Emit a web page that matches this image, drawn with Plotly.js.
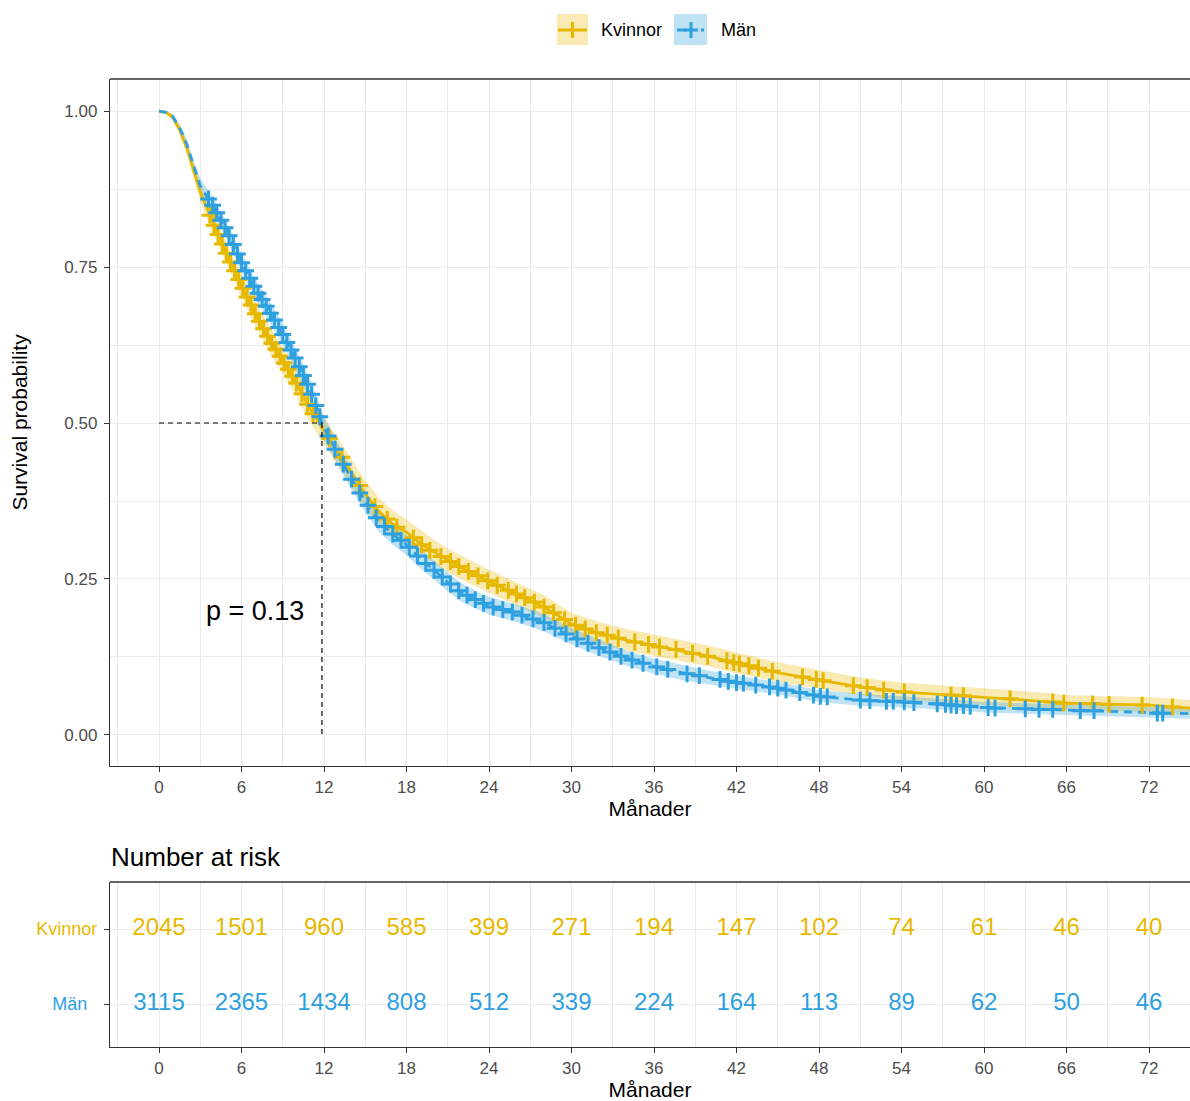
<!DOCTYPE html>
<html>
<head>
<meta charset="utf-8">
<script src="https://cdn.plot.ly/plotly-3.0.1.min.js"></script>
<style>html,body{margin:0;padding:0;background:#fff}#chart{width:1190px;height:1101px}</style>
</head>
<body>
<div id="chart"></div>
<script>
// ---------- DATA ----------
const groupNames = ['Kvinnor', 'Män'];
const groupColors = ['#E7B800', '#2E9FDF'];
const groupFills = ['rgba(231,184,0,0.30)', 'rgba(46,159,223,0.30)'];

const times = [0,0.5,1,1.5,2,2.5,3,4,5,6,7,8,9,10,11,12,13,14,15,16,17,18,19,20,21,22,23,24,26,28,30,32,34,36,38,40,42,45,48,51,54,57,60,63,66,69,72,75];

const survKvinnor  = [1.000,0.998,0.990,0.970,0.942,0.905,0.870,0.817,0.767,0.720,0.675,0.635,0.600,0.564,0.522,0.488,0.455,0.420,0.386,0.358,0.338,0.325,0.307,0.293,0.280,0.268,0.257,0.246,0.226,0.205,0.178,0.163,0.152,0.143,0.135,0.126,0.115,0.100,0.088,0.077,0.069,0.065,0.061,0.056,0.051,0.049,0.048,0.043];
const upperKvinnor = [1.000,1.000,0.995,0.978,0.952,0.918,0.885,0.834,0.785,0.739,0.695,0.656,0.621,0.586,0.544,0.510,0.477,0.442,0.408,0.380,0.360,0.345,0.329,0.313,0.299,0.287,0.276,0.265,0.245,0.224,0.196,0.181,0.170,0.161,0.153,0.143,0.132,0.117,0.104,0.092,0.084,0.080,0.075,0.070,0.064,0.062,0.061,0.056];
const lowerKvinnor = [1.000,0.996,0.985,0.962,0.932,0.892,0.855,0.800,0.749,0.701,0.655,0.614,0.579,0.542,0.500,0.466,0.433,0.398,0.364,0.338,0.318,0.305,0.289,0.275,0.261,0.249,0.238,0.228,0.208,0.187,0.161,0.146,0.135,0.126,0.118,0.110,0.099,0.085,0.074,0.064,0.056,0.052,0.049,0.044,0.040,0.038,0.037,0.032];

const survMan  = [1.000,0.998,0.991,0.973,0.948,0.913,0.880,0.845,0.805,0.757,0.715,0.680,0.642,0.600,0.552,0.492,0.450,0.410,0.374,0.342,0.322,0.305,0.283,0.264,0.245,0.228,0.217,0.207,0.195,0.180,0.158,0.140,0.123,0.110,0.100,0.092,0.084,0.075,0.062,0.056,0.053,0.049,0.044,0.042,0.040,0.038,0.035,0.034];
const upperMan = [1.000,1.000,0.995,0.979,0.956,0.922,0.892,0.858,0.819,0.772,0.731,0.697,0.659,0.617,0.570,0.510,0.468,0.427,0.391,0.359,0.339,0.320,0.299,0.279,0.260,0.243,0.231,0.221,0.209,0.194,0.171,0.153,0.135,0.122,0.112,0.103,0.095,0.085,0.072,0.066,0.062,0.058,0.053,0.051,0.049,0.047,0.044,0.043];
const lowerMan = [1.000,0.996,0.987,0.967,0.940,0.904,0.868,0.832,0.791,0.742,0.699,0.663,0.625,0.583,0.534,0.474,0.432,0.393,0.357,0.325,0.305,0.288,0.267,0.249,0.230,0.213,0.203,0.193,0.181,0.166,0.145,0.127,0.111,0.098,0.088,0.081,0.074,0.065,0.053,0.047,0.044,0.041,0.036,0.034,0.032,0.030,0.027,0.026];

// censoring marks (time, survival)
const censorTimeKvinnor = [3.7,4.0,4.3,4.6,4.9,5.2,5.5,5.8,6.1,6.4,6.7,7.0,7.3,7.6,7.9,8.2,8.5,8.8,9.1,9.4,9.7,10.0,10.4,10.8,11.2,12.4,13.3,14.6,15.7,16.6,17.3,18.5,19.1,19.7,20.5,21.2,21.8,22.5,23.2,23.9,24.6,25.4,26.0,26.6,27.3,28.0,28.7,29.5,30.3,31.0,31.8,32.6,33.4,34.6,35.6,36.4,37.6,38.8,39.9,41.3,41.8,42.2,42.9,43.6,44.6,46.8,47.8,48.3,50.5,51.5,52.7,54.2,57.6,58.5,61.9,65.0,65.8,67.9,69.1,71.5,73.7];
const censorSurvKvinnor = [0.833,0.817,0.802,0.787,0.772,0.758,0.744,0.730,0.716,0.702,0.689,0.675,0.663,0.651,0.639,0.628,0.618,0.607,0.596,0.586,0.575,0.564,0.547,0.530,0.515,0.475,0.445,0.400,0.366,0.346,0.333,0.316,0.305,0.296,0.286,0.278,0.270,0.262,0.255,0.247,0.240,0.232,0.226,0.220,0.213,0.205,0.196,0.185,0.176,0.170,0.164,0.160,0.155,0.149,0.145,0.141,0.137,0.131,0.126,0.119,0.116,0.114,0.111,0.107,0.102,0.093,0.089,0.087,0.079,0.076,0.072,0.069,0.064,0.063,0.058,0.053,0.051,0.050,0.049,0.048,0.045];

const censorTimeMan = [3.6,3.9,4.2,4.5,4.8,5.1,5.4,5.7,6.0,6.3,6.6,6.9,7.2,7.5,7.8,8.1,8.4,8.7,9.0,9.3,9.6,9.9,10.2,10.5,10.8,11.1,11.4,11.7,12.3,12.8,13.4,14.0,14.6,15.2,15.8,16.4,17.0,17.6,18.2,18.8,19.4,20.0,20.6,21.2,21.8,22.4,23.0,23.6,24.3,25.0,25.7,26.4,27.2,28.0,28.8,29.6,30.4,31.2,32.0,32.8,33.6,34.4,35.2,36.2,37.0,38.4,39.3,40.8,41.4,42.0,42.5,43.4,44.4,45.0,45.6,46.6,47.6,48.1,48.6,51.0,51.7,52.9,53.4,54.2,54.9,56.6,57.2,57.6,58.0,58.5,59.0,60.3,60.8,63.0,64.0,65.0,67.0,68.0,72.6,73.0];
const censorSurvMan = [0.859,0.849,0.837,0.825,0.813,0.800,0.786,0.771,0.757,0.744,0.732,0.719,0.708,0.698,0.687,0.676,0.665,0.653,0.642,0.629,0.617,0.604,0.590,0.576,0.562,0.546,0.528,0.510,0.479,0.458,0.434,0.410,0.388,0.368,0.348,0.334,0.322,0.312,0.301,0.287,0.275,0.264,0.253,0.242,0.231,0.224,0.217,0.211,0.205,0.201,0.197,0.192,0.186,0.180,0.171,0.162,0.154,0.147,0.140,0.133,0.126,0.120,0.115,0.109,0.105,0.098,0.095,0.089,0.086,0.084,0.083,0.080,0.077,0.075,0.072,0.068,0.064,0.062,0.061,0.056,0.055,0.054,0.054,0.053,0.052,0.050,0.049,0.048,0.047,0.047,0.046,0.044,0.043,0.042,0.041,0.041,0.039,0.039,0.035,0.035];

// number at risk table
const riskTimes = [0,6,12,18,24,30,36,42,48,54,60,66,72];
const riskKvinnor = [2045,1501,960,585,399,271,194,147,102,74,61,46,40];
const riskMan = [3115,2365,1434,808,512,339,224,164,113,89,62,50,46];

const medianTime = 11.85;
const pValueText = 'p = 0.13';
const pValuePos = [3.25, 0.198];

const xTickVals = [0,6,12,18,24,30,36,42,48,54,60,66,72];
const yTickVals = [0,0.25,0.5,0.75,1];
const yTickText = ['0.00','0.25','0.50','0.75','1.00'];

// ---------- LAYOUT HELPERS ----------
const W = 1190, H = 1101, ML = 110;
const px = v => (v - ML) / (W - ML);   // pixel x -> paper x
const py = v => 1 - v / H;             // pixel y -> paper y

const FONT = 'Liberation Sans, Arial, Helvetica, sans-serif';
const tickColor = '#4d4d4d';
const axisLine = '#333333';
const gridMajor = '#ebebeb';

const mainDomain = [py(766), py(79)];
const tableDomain = [py(1047), py(882)];
const xRange = [-3.564, 74.98];

const traces = [];
// confidence bands
traces.push({x: times, y: lowerKvinnor, type: 'scatter', mode: 'lines', line: {width: 0, color: groupFills[0]}, hoverinfo: 'skip', showlegend: false, xaxis: 'x', yaxis: 'y'});
traces.push({x: times, y: upperKvinnor, type: 'scatter', mode: 'lines', line: {width: 0, color: groupFills[0]}, fill: 'tonexty', fillcolor: groupFills[0], hoverinfo: 'skip', showlegend: false, xaxis: 'x', yaxis: 'y'});
traces.push({x: times, y: lowerMan, type: 'scatter', mode: 'lines', line: {width: 0, color: groupFills[1]}, hoverinfo: 'skip', showlegend: false, xaxis: 'x', yaxis: 'y'});
traces.push({x: times, y: upperMan, type: 'scatter', mode: 'lines', line: {width: 0, color: groupFills[1]}, fill: 'tonexty', fillcolor: groupFills[1], hoverinfo: 'skip', showlegend: false, xaxis: 'x', yaxis: 'y'});
// survival curves
traces.push({x: times, y: survKvinnor, name: groupNames[0], type: 'scatter', mode: 'lines', line: {width: 2.8, color: groupColors[0]}, showlegend: false, xaxis: 'x', yaxis: 'y'});
traces.push({x: times, y: survMan, name: groupNames[1], type: 'scatter', mode: 'lines', line: {width: 2.8, color: groupColors[1], dash: '8px,6px'}, showlegend: false, xaxis: 'x', yaxis: 'y'});
// censor marks
traces.push({x: censorTimeKvinnor, y: censorSurvKvinnor, type: 'scatter', mode: 'markers', marker: {symbol: 'cross-thin', size: 12, line: {width: 3, color: groupColors[0]}, color: groupColors[0]}, showlegend: false, xaxis: 'x', yaxis: 'y'});
traces.push({x: censorTimeMan, y: censorSurvMan, type: 'scatter', mode: 'markers', marker: {symbol: 'cross-thin', size: 12, line: {width: 3, color: groupColors[1]}, color: groupColors[1]}, showlegend: false, xaxis: 'x', yaxis: 'y'});
// risk table
traces.push({x: riskTimes, y: riskTimes.map(() => 2), text: riskKvinnor.map(String), type: 'scatter', mode: 'text', textposition: 'middle center', textfont: {family: FONT, size: 24, color: groupColors[0]}, showlegend: false, xaxis: 'x2', yaxis: 'y2', hoverinfo: 'skip'});
traces.push({x: riskTimes, y: riskTimes.map(() => 1), text: riskMan.map(String), type: 'scatter', mode: 'text', textposition: 'middle center', textfont: {family: FONT, size: 24, color: groupColors[1]}, showlegend: false, xaxis: 'x2', yaxis: 'y2', hoverinfo: 'skip'});

const xAxisCommon = {
  range: xRange, tickvals: xTickVals, ticks: 'outside', ticklen: 5, tickwidth: 1.2, tickcolor: axisLine,
  tickfont: {family: FONT, size: 17, color: tickColor},
  showgrid: true, gridcolor: gridMajor, gridwidth: 1.3,
  minor: {tick0: 3, dtick: 6, showgrid: true, gridcolor: gridMajor, gridwidth: 1.1},
  showline: true, linecolor: axisLine, linewidth: 1.3,
  zeroline: false, automargin: false, fixedrange: true,
  title: {text: 'Månader', font: {family: FONT, size: 21, color: '#000'}, standoff: 5}
};

const layout = {
  width: W, height: H,
  margin: {l: ML, r: 0, t: 0, b: 0},
  paper_bgcolor: '#fff', plot_bgcolor: '#fff',
  font: {family: FONT},
  showlegend: false,
  hovermode: false,
  xaxis: Object.assign({}, xAxisCommon, {anchor: 'y', domain: [0, 1]}),
  yaxis: {
    domain: mainDomain, anchor: 'x', range: [-0.0497, 1.0513],
    tickvals: yTickVals, ticktext: yTickText, ticks: 'outside', ticklen: 5, tickwidth: 1.2, tickcolor: axisLine,
    tickfont: {family: FONT, size: 17, color: tickColor}, ticklabelstandoff: 3,
    showgrid: true, gridcolor: gridMajor, gridwidth: 1.3,
    minor: {tick0: 0.125, dtick: 0.25, showgrid: true, gridcolor: gridMajor, gridwidth: 1.1},
    showline: true, linecolor: axisLine, linewidth: 1.3, zeroline: false, automargin: false, fixedrange: true,
    title: {text: 'Survival probability', font: {family: FONT, size: 21, color: '#000'}, standoff: 31}
  },
  xaxis2: Object.assign({}, xAxisCommon, {anchor: 'y2', domain: [0, 1]}),
  yaxis2: {
    domain: tableDomain, anchor: 'x2', range: [0.427, 2.627],
    tickvals: [1, 2],
    ticktext: ['<span style="color:' + groupColors[1] + '">' + groupNames[1] + '\u00a0\u00a0</span>',
               '<span style="color:' + groupColors[0] + '">' + groupNames[0] + '</span>'],
    ticks: 'outside', ticklen: 5, tickwidth: 1.2, tickcolor: axisLine,
    tickfont: {family: FONT, size: 18, color: tickColor}, ticklabelstandoff: 3,
    showgrid: true, gridcolor: gridMajor, gridwidth: 1.3,
    showline: true, linecolor: axisLine, linewidth: 1.3, zeroline: false, automargin: false, fixedrange: true
  },
  shapes: [
    // top borders of panels
    {type: 'line', xref: 'paper', yref: 'paper', x0: 0, x1: 1, y0: mainDomain[1], y1: mainDomain[1], line: {color: axisLine, width: 1.3}},
    {type: 'line', xref: 'paper', yref: 'paper', x0: 0, x1: 1, y0: tableDomain[1], y1: tableDomain[1], line: {color: axisLine, width: 1.3}},
    // median lines
    {type: 'line', xref: 'x', yref: 'y', x0: 0, x1: medianTime, y0: 0.5, y1: 0.5, line: {color: '#000', width: 1.2, dash: '5px,4px'}},
    {type: 'line', xref: 'x', yref: 'y', x0: medianTime, x1: medianTime, y0: 0.5, y1: 0, line: {color: '#000', width: 1.2, dash: '5px,4px'}},
    // legend keys
    {type: 'rect', xref: 'paper', yref: 'paper', x0: px(557), x1: px(588), y0: py(45), y1: py(14), fillcolor: groupFills[0], line: {width: 0}},
    {type: 'line', xref: 'paper', yref: 'paper', x0: px(558), x1: px(587), y0: py(30), y1: py(30), line: {color: groupColors[0], width: 3}},
    {type: 'line', xref: 'paper', yref: 'paper', x0: px(572.5), x1: px(572.5), y0: py(22), y1: py(38), line: {color: groupColors[0], width: 3}},
    {type: 'rect', xref: 'paper', yref: 'paper', x0: px(674), x1: px(707), y0: py(45), y1: py(14), fillcolor: groupFills[1], line: {width: 0}},
    {type: 'line', xref: 'paper', yref: 'paper', x0: px(677), x1: px(686), y0: py(30), y1: py(30), line: {color: groupColors[1], width: 3}},
    {type: 'line', xref: 'paper', yref: 'paper', x0: px(684), x1: px(698), y0: py(30), y1: py(30), line: {color: groupColors[1], width: 3}},
    {type: 'line', xref: 'paper', yref: 'paper', x0: px(691), x1: px(691), y0: py(22), y1: py(38), line: {color: groupColors[1], width: 3}},
    {type: 'line', xref: 'paper', yref: 'paper', x0: px(701), x1: px(704), y0: py(30), y1: py(30), line: {color: groupColors[1], width: 3}}
  ],
  annotations: [
    {xref: 'x', yref: 'y', x: pValuePos[0], y: pValuePos[1], text: pValueText, showarrow: false, xanchor: 'left', yanchor: 'middle', font: {family: FONT, size: 27, color: '#000'}},
    {xref: 'paper', yref: 'paper', x: px(109), y: py(857), text: 'Number at risk', showarrow: false, xanchor: 'left', yanchor: 'middle', font: {family: FONT, size: 26, color: '#000'}},
    {xref: 'paper', yref: 'paper', x: px(599), y: py(30), text: groupNames[0], showarrow: false, xanchor: 'left', yanchor: 'middle', font: {family: FONT, size: 18, color: '#000'}},
    {xref: 'paper', yref: 'paper', x: px(719), y: py(30), text: groupNames[1], showarrow: false, xanchor: 'left', yanchor: 'middle', font: {family: FONT, size: 18, color: '#000'}}
  ]
};

Plotly.newPlot('chart', traces, layout, {displayModeBar: false, responsive: false});
</script>
</body>
</html>
